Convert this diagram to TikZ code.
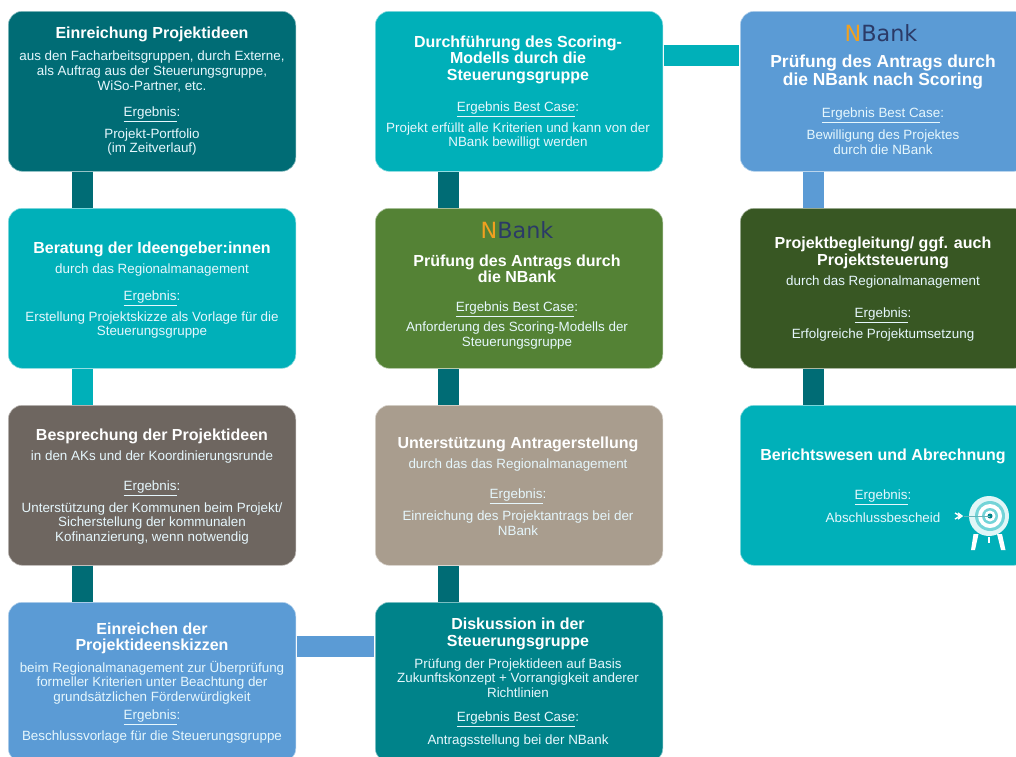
\documentclass[tikz,border=0pt]{standalone}
\usepackage{fontspec}
\setmainfont{Liberation Sans}
\newfontfamily\logofont{DejaVu Sans}
\usetikzlibrary{calc}
\definecolor{cDark}{HTML}{006C75}
\definecolor{cTeal}{HTML}{00B0B9}
\definecolor{cGrey}{HTML}{6E6660}
\definecolor{cBlue}{HTML}{5B9BD5}
\definecolor{cGreen}{HTML}{548235}
\definecolor{cSand}{HTML}{A99D8E}
\definecolor{cMid}{HTML}{00838A}
\definecolor{cForest}{HTML}{385723}
\definecolor{cOrange}{HTML}{F0A020}
\definecolor{cNavy}{HTML}{2B3A67}
\tikzset{
  x=1pt,y=-1pt,
  box/.style={draw=white!55!#1,line width=0.6pt,fill=#1,rounded corners=14pt,anchor=north west,inner sep=0pt,minimum width=287.5pt,minimum height=160pt},
  conn/.style={draw=#1,line width=21pt,line cap=butt},
  ttl/.style={text=white,align=center,inner sep=0pt,yshift=-2pt,font=\fontsize{16}{16.5}\selectfont\bfseries},
  ttlbig/.style={text=white,align=center,inner sep=0pt,yshift=-2pt,font=\fontsize{17.4}{18}\selectfont\bfseries},
  txt/.style={text=white!90!cyan,align=center,inner sep=0pt,yshift=-1.5pt,font=\fontsize{13.4}{14.6}\selectfont},
  logoN/.style={inner sep=0pt,anchor=center,font=\fontsize{22.3}{22.3}\logofont},
}
\newcommand{\erg}[1]{\underline{#1}:}
\newcommand{\nbank}{\textcolor{cOrange}{N}\textcolor{cNavy}{Bank}}
\begin{document}
\begin{tikzpicture}
\useasboundingbox (0,0) rectangle (1016,756);
\clip (0,0) rectangle (1016,756);
% boxes
\node[box=cDark] (a1) at (8,11) {};
\node[box=cTeal] (a2) at (8,208) {};
\node[box=cGrey] (a3) at (8,405) {};
\node[box=cBlue] (a4) at (8,602) {};
\node[box=cTeal] (b1) at (375,11) {};
\node[box=cGreen] (b2) at (375,208) {};
\node[box=cSand] (b3) at (375,405) {};
\node[box=cMid] (b4) at (375,602) {};
\node[box=cBlue] (c1) at (740,11) {};
\node[box=cForest] (c2) at (740,208) {};
\node[box=cTeal] (c3) at (740,405) {};
% connectors
\draw[conn=cDark] ($(a1.south west)+(74,0)$) -- ($(a2.north west)+(74,0)$);
\draw[conn=cTeal] ($(a2.south west)+(74,0)$) -- ($(a3.north west)+(74,0)$);
\draw[conn=cDark] ($(a3.south west)+(74,0)$) -- ($(a4.north west)+(74,0)$);
\draw[conn=cBlue] ($(a4.north east)+(0.5,44)$) -- ($(b4.north west)+(-1.5,44)$);
\draw[conn=cDark] ($(b4.north west)+(73,0)$) -- ($(b3.south west)+(73,0)$);
\draw[conn=cDark] ($(b3.north west)+(73,0)$) -- ($(b2.south west)+(73,0)$);
\draw[conn=cDark] ($(b2.north west)+(73,0)$) -- ($(b1.south west)+(73,0)$);
\draw[conn=cTeal] ($(b1.north east)+(0.5,44)$) -- ($(c1.north west)+(-1.5,44)$);
\draw[conn=cBlue] ($(c1.south west)+(73,0)$) -- ($(c2.north west)+(73,0)$);
\draw[conn=cDark] ($(c2.south west)+(73,0)$) -- ($(c3.north west)+(73,0)$);
% column A
\node[ttl] (a1t) at (152,32) {Einreichung Projektideen};
\node[txt] (a1b) at (152,70) {aus den Facharbeitsgruppen, durch Externe,\\als Auftrag aus der Steuerungsgruppe,\\WiSo-Partner, etc.};
\node[txt] (a1e) at (152,113) {\erg{Ergebnis}};
\node[txt] (a1r) at (152,140.5) {Projekt-Portfolio\\(im Zeitverlauf)};
\node[ttl] (a2t) at (152,247) {Beratung der Ideengeber:innen};
\node[txt] (a2b) at (152,269) {durch das Regionalmanagement};
\node[txt] (a2e) at (152,297) {\erg{Ergebnis}};
\node[txt] (a2r) at (152,323.5) {Erstellung Projektskizze als Vorlage für die\\Steuerungsgruppe};
\node[ttl] (a3t) at (152,434) {Besprechung der Projektideen};
\node[txt] (a3b) at (152,456) {in den AKs und der Koordinierungsrunde};
\node[txt] (a3e) at (152,487) {\erg{Ergebnis}};
\node[txt] (a3r) at (152,522) {Unterstützung der Kommunen beim Projekt/\\Sicherstellung der kommunalen\\Kofinanzierung, wenn notwendig};
\node[ttl] (a4t) at (152,636.5) {Einreichen der\\Projektideenskizzen};
\node[txt] (a4b) at (152,681) {beim Regionalmanagement zur Überprüfung\\formeller Kriterien unter Beachtung der\\grundsätzlichen Förderwürdigkeit};
\node[txt] (a4e) at (152,716) {\erg{Ergebnis}};
\node[txt] (a4r) at (152,736) {Beschlussvorlage für die Steuerungsgruppe};
% column B
\node[ttl] (b1t) at (518,57.5) {Durchführung des Scoring-\\Modells durch die\\Steuerungsgruppe};
\node[txt] (b1e) at (518,108) {\erg{Ergebnis Best Case}};
\node[txt] (b1r) at (518,134.5) {Projekt erfüllt alle Kriterien und kann von der\\NBank bewilligt werden};
\node[logoN] (b2l) at (517,230) {\nbank};
\node[ttl] (b2t) at (517,267) {Prüfung des Antrags durch\\die NBank};
\node[txt] (b2e) at (517,308) {\erg{Ergebnis Best Case}};
\node[txt] (b2r) at (517,334) {Anforderung des Scoring-Modells der\\Steuerungsgruppe};
\node[ttl] (b3t) at (518,442) {Unterstützung Antragerstellung};
\node[txt] (b3b) at (518,464) {durch das das Regionalmanagement};
\node[txt] (b3e) at (518,495) {\erg{Ergebnis}};
\node[txt] (b3r) at (518,521.5) {Einreichung des Projektantrags bei der\\NBank};
\node[ttl] (b4t) at (518,632) {Diskussion in der\\Steuerungsgruppe};
\node[txt] (b4b) at (518,676.5) {Prüfung der Projektideen auf Basis\\Zukunftskonzept + Vorrangigkeit anderer\\Richtlinien};
\node[txt] (b4e) at (518,718) {\erg{Ergebnis Best Case}};
\node[txt] (b4r) at (518,740) {Antragsstellung bei der NBank};
% column C
\node[logoN] (c1l) at (881,33) {\nbank};
\node[ttlbig] (c1t) at (883,70) {Prüfung des Antrags durch\\die NBank nach Scoring};
\node[txt] (c1e) at (883,114) {\erg{Ergebnis Best Case}};
\node[txt] (c1r) at (883,140.5) {Bewilligung des Projektes\\durch die NBank};
\node[ttl] (c2t) at (883,251) {Projektbegleitung/ ggf. auch\\Projektsteuerung};
\node[txt] (c2b) at (883,281) {durch das Regionalmanagement};
\node[txt] (c2e) at (883,314) {\erg{Ergebnis}};
\node[txt] (c2r) at (883,334) {Erfolgreiche Projektumsetzung};
\node[ttl] (c3t) at (883,454) {Berichtswesen und Abrechnung};
\node[txt] (c3e) at (883,496) {\erg{Ergebnis}};
\node[txt] (c3r) at (883,516) {Abschlussbescheid};
% target icon
\fill[white] (973.5,534) -- (978.5,534) -- (975,550) -- (971,550) -- cycle;
\fill[white] (997,534) -- (1002,534) -- (1005.5,550) -- (1001,550) -- cycle;
\fill[white] (987.5,537) rectangle (989.5,543);
\fill[white!88!cTeal] (989,516) circle (20);
\fill[cTeal!55!white] (990,516) circle (15);
\fill[white] (990,516) circle (12);
\fill[cTeal!55!white] (990,516) circle (8);
\fill[white] (990,516) circle (5.5);
\fill[cMid] (990,516) circle (2.5);
\draw[cMid!60!white,line width=0.8pt] (964,516) -- (990,516);
\draw[white,line width=1.4pt] (955,513) -- (960,516) -- (955,519);
\draw[white,line width=1.4pt] (958,513) -- (962,516) -- (958,519);
\end{tikzpicture}
\end{document}
